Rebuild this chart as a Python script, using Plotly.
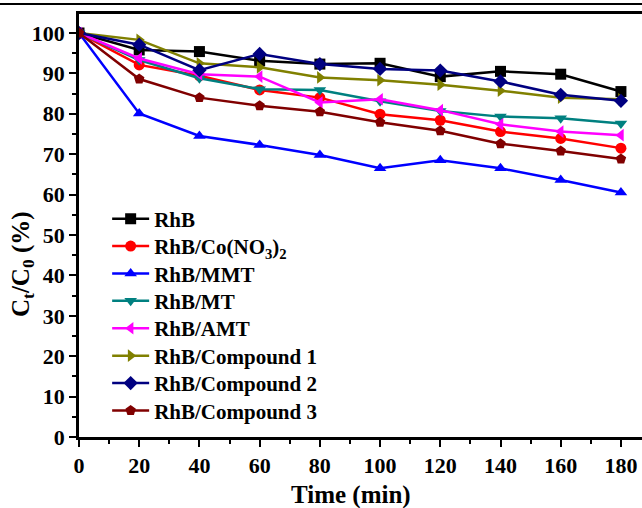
import plotly.graph_objects as go

time_min = [0, 20, 40, 60, 80, 100, 120, 140, 160, 180]

rhb = [100, 95.8, 95.4, 93.1, 92.3, 92.5, 89.2, 90.5, 89.8, 85.5]
rhb_co = [100, 92.1, 89.4, 85.9, 84.0, 79.9, 78.4, 75.6, 73.9, 71.5]
rhb_mmt = [100, 80.1, 74.5, 72.3, 69.8, 66.5, 68.5, 66.5, 63.6, 60.5]
rhb_mt = [100, 93.3, 88.8, 86.1, 85.9, 83.1, 80.7, 79.3, 78.9, 77.6]
rhb_amt = [100, 93.7, 89.8, 89.2, 82.8, 83.6, 80.9, 77.4, 75.6, 74.7]
rhb_c1 = [100, 98.3, 92.5, 91.5, 89.0, 88.3, 87.2, 85.7, 84.0, 83.6]
rhb_c2 = [100, 97.1, 90.8, 94.8, 92.3, 91.1, 90.7, 88.0, 84.7, 83.2]
rhb_c3 = [100, 88.6, 84.0, 82.0, 80.5, 77.9, 75.8, 72.6, 70.8, 68.8]

names = ["RhB", "RhB/Co(NO<sub>3</sub>)<sub>2</sub>", "RhB/MMT", "RhB/MT", "RhB/AMT",
         "RhB/Compound 1", "RhB/Compound 2", "RhB/Compound 3"]
series = [rhb, rhb_co, rhb_mmt, rhb_mt, rhb_amt, rhb_c1, rhb_c2, rhb_c3]
colors = ["#000000", "#FF0000", "#0000FF", "#008080", "#FF00FF", "#808000", "#000080", "#800000"]
symbols = ["square", "circle", "triangle-up", "triangle-down", "triangle-left",
           "triangle-right", "diamond", "pentagon"]

x_title = "Time (min)"
y_title = "C<sub>t</sub>/C<sub>0</sub> (%)"

FONT = "Liberation Serif"
W, H = 642, 508
PLOT_LEFT, PLOT_TOP, PLOT_BOTTOM = 79, 14, 437
PW, PH = W - PLOT_LEFT, PLOT_BOTTOM - PLOT_TOP


def px_x(px):
    return (px - PLOT_LEFT) / PW


def px_y(py):
    return (PLOT_BOTTOM - py) / PH


fig = go.Figure()
legend_layout = {}
for i, (n, s, c, m) in enumerate(zip(names, series, colors, symbols)):
    key = "legend" if i == 0 else f"legend{i + 1}"
    fig.add_trace(go.Scatter(
        x=time_min, y=s, name=n, mode="lines+markers",
        line=dict(color=c, width=2.5),
        marker=dict(symbol=m, size=11, color=c),
        legend=key,
    ))
    legend_layout[key] = dict(
        x=0.05, y=px_y(219 + 27.4 * i),
        xanchor="left", yanchor="middle",
        bgcolor="rgba(0,0,0,0)", borderwidth=0,
        font=dict(family=FONT, size=21, color="black", weight="bold"),
        itemwidth=37,
    )

fig.update_layout(
    width=W, height=H,
    margin=dict(l=PLOT_LEFT, r=0, t=PLOT_TOP, b=H - PLOT_BOTTOM),
    paper_bgcolor="white", plot_bgcolor="white",
    font=dict(family=FONT, size=21, color="black"),
    showlegend=True,
    shapes=[dict(type="line", xref="paper", yref="paper",
                 x0=px_x(-10), x1=1.0, y0=px_y(4), y1=px_y(4),
                 line=dict(color="black", width=2))],
    annotations=[
        dict(text=x_title, xref="paper", yref="paper", x=px_x(351), y=px_y(495),
             xanchor="center", yanchor="middle", showarrow=False,
             font=dict(family=FONT, size=25, color="black", weight="bold")),
        dict(text=y_title, xref="paper", yref="paper", x=px_x(22), y=px_y(264),
             xanchor="center", yanchor="middle", showarrow=False, textangle=-90,
             font=dict(family=FONT, size=25, color="black", weight="bold")),
    ],
    **legend_layout,
)

fig.update_xaxes(
    range=[0, 187], showgrid=False, zeroline=False,
    showline=True, linecolor="black", linewidth=2.5, mirror=True,
    ticks="outside", ticklen=7, tickwidth=2, tickcolor="black",
    tick0=0, dtick=20,
    minor=dict(dtick=10, ticks="outside", ticklen=4, tickwidth=2, tickcolor="black"),
    tickfont=dict(family=FONT, size=22, color="black", weight="bold"),
)
fig.update_yaxes(
    range=[0, 104.7], showgrid=False, zeroline=False,
    showline=True, linecolor="black", linewidth=2.5,
    ticks="outside", ticklen=7, tickwidth=2, tickcolor="black",
    tick0=0, dtick=10,
    minor=dict(dtick=5, ticks="outside", ticklen=4, tickwidth=2, tickcolor="black"),
    tickfont=dict(family=FONT, size=22, color="black", weight="bold"),
)

fig.write_html("out.html")
